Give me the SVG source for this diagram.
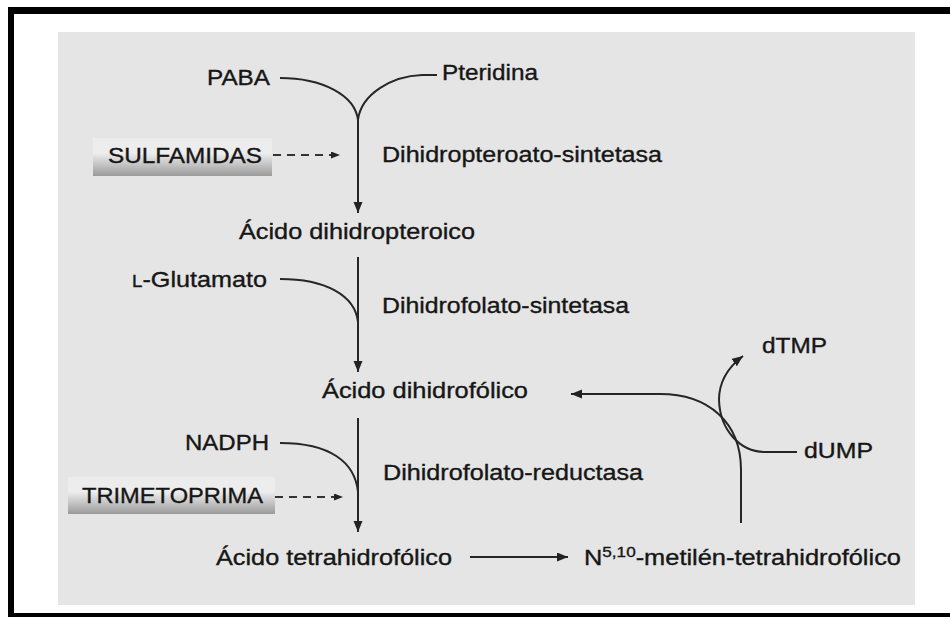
<svg xmlns="http://www.w3.org/2000/svg" width="950" height="617" viewBox="0 0 950 617">
<style>
text{font-family:"Liberation Sans",Arial,Helvetica,sans-serif;font-size:21.5px;fill:#161616;stroke:#161616;stroke-width:0.35px;}
.ln{fill:none;stroke:#262626;stroke-width:2;}
.ds{fill:none;stroke:#333;stroke-width:1.8;stroke-dasharray:8 6;}
</style>
<defs>
<marker id="ah" markerUnits="userSpaceOnUse" markerWidth="12" markerHeight="10" refX="11" refY="4.5" orient="auto">
<path d="M0,0 L11,4.5 L0,9 z" fill="#222"/>
</marker>
<marker id="ahs" markerUnits="userSpaceOnUse" markerWidth="10" markerHeight="8" refX="9" refY="3.5" orient="auto">
<path d="M0,0 L9,3.5 L0,7 z" fill="#222"/>
</marker>
<linearGradient id="gb" x1="0" y1="0" x2="0" y2="1">
<stop offset="0" stop-color="#ececec"/>
<stop offset="0.4" stop-color="#ededed"/>
<stop offset="0.7" stop-color="#c4c4c4"/>
<stop offset="1" stop-color="#9a9a9a"/>
</linearGradient>
</defs>
<rect width="950" height="617" fill="#ffffff"/>
<g id="frame">
<rect x="8" y="7" width="942" height="7" fill="#000"/>
<rect x="8" y="7" width="6" height="610" fill="#000"/>
<rect x="8" y="613" width="942" height="4" fill="#000"/>
</g>
<rect id="panel" x="58" y="32" width="857" height="573" fill="#e5e5e5"/>
<g id="connectors">
<path class="ln" d="M280,78 C322,78 355,95 358,120"/>
<path class="ln" d="M437,75 L422,75 C392,76 361,94 358,120"/>
<path class="ln" d="M358,118 L358,213" marker-end="url(#ah)"/>
<path class="ln" d="M358,257 L358,372" marker-end="url(#ah)"/>
<path class="ln" d="M280,279 C325,279 355,295 358,322"/>
<path class="ln" d="M358,418 L358,532" marker-end="url(#ah)"/>
<path class="ln" d="M280,443 C330,443 355,462 358,492"/>
<path class="ds" d="M273,155 L340,155" marker-end="url(#ahs)"/>
<path class="ds" d="M275,497 L343,497" marker-end="url(#ahs)"/>
<path class="ln" d="M470,557 L568,557" marker-end="url(#ah)"/>
<path class="ln" d="M741,523 L741,470 C741,422 708,394 660,394 L571,394" marker-end="url(#ah)"/>
<path class="ln" d="M797,452 L765,452 C740,452 720,430 719,400 C719,382 727,368 743,356" marker-end="url(#ah)"/>
</g>
<g id="n-paba"><text x="207" y="85" textLength="63" lengthAdjust="spacingAndGlyphs">PABA</text></g>
<g id="n-pteridina"><text x="442" y="80" textLength="96" lengthAdjust="spacingAndGlyphs">Pteridina</text></g>
<g id="n-sulfamidas">
<rect x="93" y="138" width="179" height="38" fill="url(#gb)"/>
<text x="108" y="163" textLength="154" lengthAdjust="spacingAndGlyphs">SULFAMIDAS</text>
</g>
<g id="n-dhps"><text x="382" y="162" textLength="280" lengthAdjust="spacingAndGlyphs">Dihidropteroato-sintetasa</text></g>
<g id="n-adhp"><text x="239" y="239" textLength="236" lengthAdjust="spacingAndGlyphs">Ácido dihidropteroico</text></g>
<g id="n-glut"><text x="132" y="287" textLength="135" lengthAdjust="spacingAndGlyphs"><tspan font-size="16">L</tspan>-Glutamato</text></g>
<g id="n-dhfs"><text x="382" y="313" textLength="247" lengthAdjust="spacingAndGlyphs">Dihidrofolato-sintetasa</text></g>
<g id="n-dhf"><text x="322" y="398" textLength="206" lengthAdjust="spacingAndGlyphs">Ácido dihidrofólico</text></g>
<g id="n-dtmp"><text x="762" y="353" textLength="65" lengthAdjust="spacingAndGlyphs">dTMP</text></g>
<g id="n-nadph"><text x="185" y="450" textLength="84" lengthAdjust="spacingAndGlyphs">NADPH</text></g>
<g id="n-dhfr"><text x="383" y="480" textLength="260" lengthAdjust="spacingAndGlyphs">Dihidrofolato-reductasa</text></g>
<g id="n-dump"><text x="804" y="458" textLength="69" lengthAdjust="spacingAndGlyphs">dUMP</text></g>
<g id="n-trimetoprima">
<rect x="68" y="477" width="207" height="37" fill="url(#gb)"/>
<text x="82" y="503" textLength="181" lengthAdjust="spacingAndGlyphs">TRIMETOPRIMA</text>
</g>
<g id="n-thf"><text x="216" y="565" textLength="236" lengthAdjust="spacingAndGlyphs">Ácido tetrahidrofólico</text></g>
<g id="n-mthf"><text x="584" y="565" textLength="317" lengthAdjust="spacingAndGlyphs">N<tspan font-size="14.5" dy="-8">5,10</tspan><tspan dy="8">-metilén-tetrahidrofólico</tspan></text></g>
</svg>
